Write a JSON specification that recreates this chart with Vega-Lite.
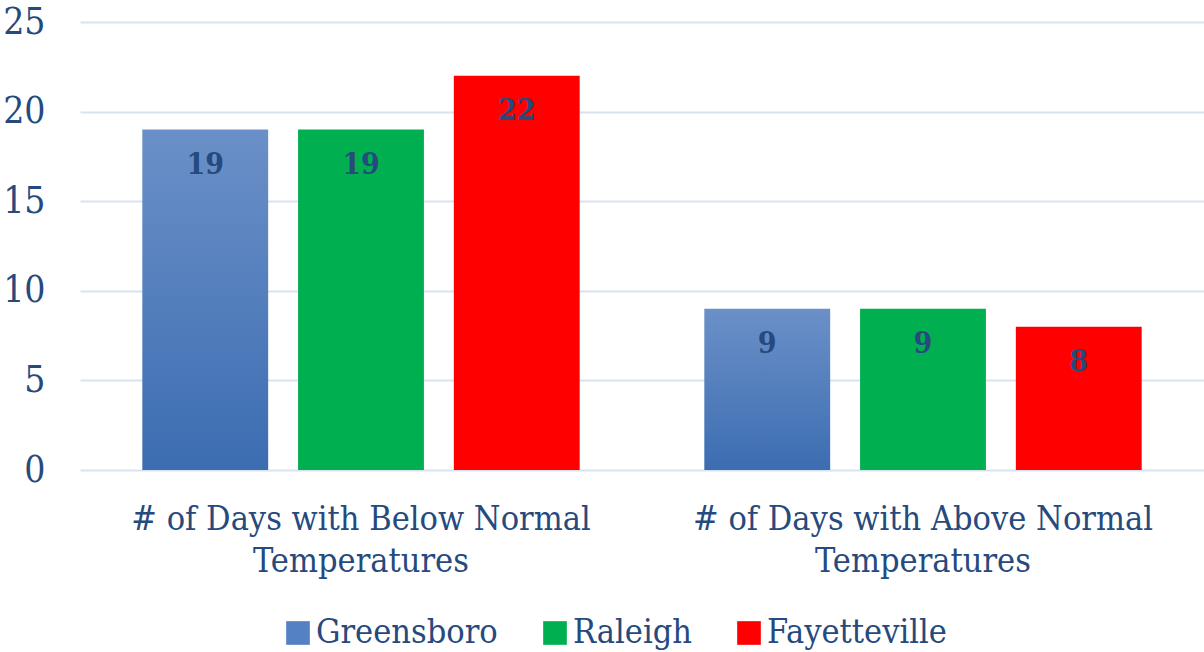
{
  "$schema": "https://vega.github.io/schema/vega-lite/v6.json",
  "autosize": {"type": "none"},
  "width": 1124,
  "height": 448,
  "padding": {"left": 80, "top": 22, "right": 0, "bottom": 182},
  "background": "white",
  "data": {
    "values": [
      {"category": "# of Days with Below Normal|Temperatures", "city": "Greensboro", "days": 19},
      {"category": "# of Days with Below Normal|Temperatures", "city": "Raleigh", "days": 19},
      {"category": "# of Days with Below Normal|Temperatures", "city": "Fayetteville", "days": 22},
      {"category": "# of Days with Above Normal|Temperatures", "city": "Greensboro", "days": 9},
      {"category": "# of Days with Above Normal|Temperatures", "city": "Raleigh", "days": 9},
      {"category": "# of Days with Above Normal|Temperatures", "city": "Fayetteville", "days": 8}
    ]
  },
  "config": {
    "view": {"stroke": null},
    "font": "DejaVu Serif Condensed"
  },
  "encoding": {
    "x": {
      "field": "category",
      "type": "nominal",
      "sort": null,
      "title": null,
      "scale": {"paddingInner": 0, "paddingOuter": 0},
      "axis": {
        "labelAngle": 0,
        "labelExpr": "split(datum.label, '|')",
        "labelFont": "DejaVu Serif Condensed",
        "labelFontSize": 34,
        "labelColor": "#264a7e",
        "labelLineHeight": 42,
        "labelPadding": 32,
        "labelLimit": 600,
        "ticks": false,
        "domain": false
      }
    },
    "xOffset": {
      "field": "city",
      "type": "nominal",
      "sort": ["Greensboro", "Raleigh", "Fayetteville"],
      "scale": {"paddingInner": 0.192, "paddingOuter": 0.4}
    },
    "y": {
      "field": "days",
      "type": "quantitative",
      "title": null,
      "scale": {"domain": [0, 25], "nice": false},
      "axis": {
        "values": [0, 5, 10, 15, 20, 25],
        "labelFont": "DejaVu Serif Condensed",
        "labelFontSize": 37,
        "labelColor": "#264a7e",
        "labelPadding": 35,
        "ticks": false,
        "domain": false,
        "gridColor": "#d9e2f1",
        "gridWidth": 2
      }
    }
  },
  "layer": [
    {
      "mark": {"type": "bar"},
      "encoding": {
        "color": {
          "condition": {
            "test": "datum.city === 'Greensboro'",
            "value": {
              "gradient": "linear",
              "x1": 0, "y1": 0, "x2": 0, "y2": 1,
              "stops": [
                {"offset": 0, "color": "#6b90c8"},
                {"offset": 1, "color": "#3c6db1"}
              ]
            }
          },
          "field": "city",
          "type": "nominal",
          "sort": ["Greensboro", "Raleigh", "Fayetteville"],
          "scale": {
            "domain": ["Greensboro", "Raleigh", "Fayetteville"],
            "range": ["#5381c2", "#00b050", "#ff0000"]
          },
          "legend": {
            "title": null,
            "orient": "none",
            "direction": "horizontal",
            "columns": 3,
            "legendX": 201,
            "legendY": 594,
            "symbolType": "square",
            "symbolSize": 560,
            "symbolStrokeWidth": 0,
            "labelFont": "DejaVu Serif Condensed",
            "labelFontSize": 34,
            "labelColor": "#264a7e",
            "labelOffset": 1,
            "columnPadding": 40,
            "labelLimit": 400
          }
        }
      }
    },
    {
      "mark": {
        "type": "text",
        "baseline": "middle",
        "dy": 35,
        "font": "DejaVu Serif Condensed",
        "fontSize": 30,
        "fontWeight": "bold",
        "color": "#264a7e"
      },
      "encoding": {
        "text": {"field": "days", "type": "quantitative"}
      }
    }
  ]
}
